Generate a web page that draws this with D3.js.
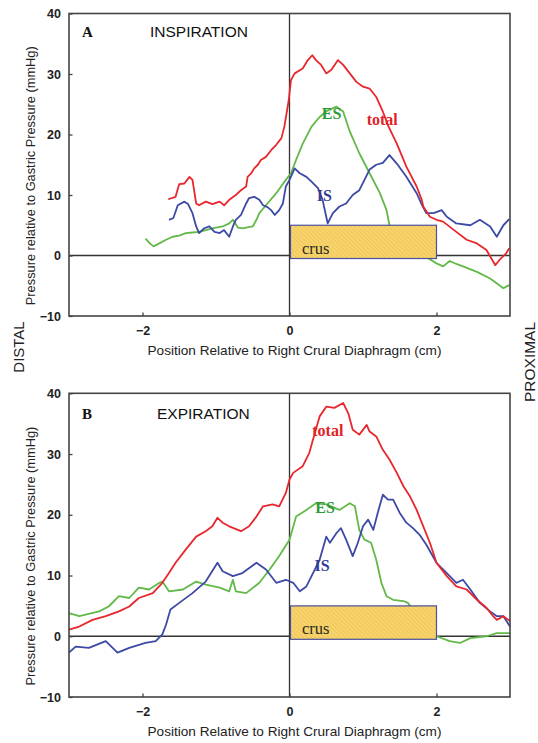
<!DOCTYPE html>
<html><head><meta charset="utf-8">
<script src="https://cdn.jsdelivr.net/npm/d3@7"></script>
<style>body{margin:0;background:#fff}svg{display:block}</style>
</head><body>
<svg id="chart" width="538" height="743"></svg>
<script>
// ---------- data ----------
const xTicks = [-2, 0, 2];
const yTicks = [-10, 0, 10, 20, 30, 40];
const crus = {x0: 0, x1: 2, y0: -0.5, y1: 5};

const inspTotal = [[-1.65,9.3],[-1.55,9.7],[-1.50,11.8],[-1.43,11.9],[-1.36,13.0],[-1.32,12.5],[-1.27,8.6],[-1.23,8.3],[-1.14,8.9],[-1.05,8.5],[-0.95,8.9],[-0.89,8.3],[-0.82,9.2],[-0.73,10.0],[-0.66,10.8],[-0.59,11.4],[-0.57,13.0],[-0.52,13.6],[-0.48,14.4],[-0.43,15.0],[-0.39,15.8],[-0.32,16.3],[-0.25,17.4],[-0.18,18.3],[-0.11,19.4],[-0.07,21.3],[-0.04,23.5],[-0.01,25.7],[0.02,29.0],[0.07,30.1],[0.18,30.9],[0.25,32.3],[0.31,33.1],[0.36,32.3],[0.43,31.5],[0.50,30.1],[0.57,30.7],[0.66,32.3],[0.73,31.5],[0.82,30.1],[0.91,28.7],[1.00,27.9],[1.09,27.6],[1.18,26.2],[1.27,23.8],[1.34,21.5],[1.46,18.5],[1.59,14.7],[1.73,11.4],[1.80,9.2],[1.82,8.1],[1.91,6.4],[2.0,5.9],[2.09,5.6],[2.27,3.9],[2.41,2.6],[2.55,2.0],[2.68,0.9],[2.80,-1.6],[2.86,-0.7],[2.95,0.4],[2.99,1.2]];
const inspES = [[-1.96,2.8],[-1.90,2.0],[-1.85,1.5],[-1.77,2.0],[-1.68,2.6],[-1.59,3.1],[-1.50,3.3],[-1.41,3.7],[-1.32,3.8],[-1.23,3.9],[-1.14,4.2],[-1.05,4.5],[-0.91,4.8],[-0.82,5.3],[-0.77,5.9],[-0.70,4.6],[-0.64,4.5],[-0.50,4.8],[-0.45,5.9],[-0.41,7.0],[-0.32,8.3],[-0.18,10.3],[-0.05,12.5],[0.02,13.6],[0.09,15.8],[0.18,18.5],[0.30,21.3],[0.41,22.9],[0.52,24.0],[0.64,24.6],[0.73,23.8],[0.82,20.5],[0.95,16.9],[1.09,13.6],[1.23,10.3],[1.32,7.5],[1.36,5.0],[1.55,2.5],[1.80,0.2],[2.0,-1.3],[2.09,-1.8],[2.18,-0.9],[2.27,-1.4],[2.36,-1.8],[2.55,-2.7],[2.73,-3.8],[2.91,-5.4],[2.99,-4.9]];
const inspIS = [[-1.64,5.9],[-1.58,6.2],[-1.52,8.3],[-1.43,8.9],[-1.38,8.5],[-1.32,7.0],[-1.27,4.8],[-1.23,3.7],[-1.16,4.5],[-1.09,4.8],[-1.02,3.9],[-0.95,3.7],[-0.89,4.2],[-0.82,3.1],[-0.77,4.8],[-0.73,5.9],[-0.66,6.7],[-0.59,8.6],[-0.55,9.5],[-0.48,9.7],[-0.41,9.2],[-0.36,8.3],[-0.30,8.0],[-0.25,7.5],[-0.20,6.7],[-0.14,7.5],[-0.09,8.6],[-0.05,11.4],[0.0,12.5],[0.07,14.4],[0.14,13.6],[0.23,13.0],[0.30,12.2],[0.39,11.1],[0.45,9.2],[0.52,5.3],[0.59,7.0],[0.68,8.1],[0.77,8.6],[0.86,10.0],[0.95,10.8],[1.02,12.5],[1.09,14.2],[1.18,15.0],[1.27,15.3],[1.36,16.6],[1.46,15.2],[1.59,13.0],[1.73,10.3],[1.80,8.4],[1.86,7.0],[1.96,7.0],[2.07,7.5],[2.14,6.4],[2.27,5.3],[2.46,5.0],[2.59,5.9],[2.73,4.8],[2.82,3.1],[2.91,5.0],[2.99,6.0]];

const expTotal = [[-3.0,1.1],[-2.86,1.6],[-2.68,2.7],[-2.50,3.3],[-2.32,4.1],[-2.18,4.9],[-2.05,6.3],[-1.86,7.1],[-1.73,8.8],[-1.64,10.4],[-1.55,12.1],[-1.41,14.3],[-1.27,16.4],[-1.14,17.3],[-1.05,18.1],[-0.98,19.5],[-0.91,18.7],[-0.82,18.1],[-0.66,17.3],[-0.55,18.1],[-0.45,19.7],[-0.36,21.4],[-0.23,21.7],[-0.14,21.4],[-0.05,23.6],[0.0,25.8],[0.05,26.9],[0.18,28.0],[0.27,30.2],[0.32,32.4],[0.41,36.2],[0.50,37.8],[0.61,37.6],[0.73,38.4],[0.80,36.7],[0.86,34.0],[0.95,33.2],[1.05,34.8],[1.09,33.7],[1.18,32.9],[1.27,30.7],[1.36,29.1],[1.46,26.9],[1.55,24.7],[1.64,23.0],[1.73,20.8],[1.82,18.1],[1.91,15.4],[2.0,12.1],[2.14,9.9],[2.27,8.2],[2.41,7.7],[2.55,6.0],[2.68,4.7],[2.77,3.3],[2.82,2.7],[2.91,3.3],[3.0,2.5]];
const expES = [[-3.0,3.8],[-2.86,3.3],[-2.59,4.1],[-2.46,4.9],[-2.32,6.6],[-2.18,6.3],[-2.05,8.0],[-1.91,7.7],[-1.77,8.8],[-1.73,9.0],[-1.64,7.4],[-1.45,7.7],[-1.27,9.0],[-1.14,8.5],[-0.95,8.0],[-0.82,7.4],[-0.77,9.3],[-0.73,7.4],[-0.59,7.1],[-0.41,8.8],[-0.27,11.0],[-0.14,13.2],[0.0,15.9],[0.09,19.7],[0.23,20.8],[0.36,21.9],[0.50,21.7],[0.68,20.8],[0.82,21.9],[0.89,21.4],[0.95,17.5],[1.02,15.9],[1.11,15.4],[1.18,12.6],[1.25,8.8],[1.32,6.6],[1.41,6.0],[1.55,5.8],[1.61,5.5],[1.8,2.5],[2.0,0.0],[2.18,-0.8],[2.32,-1.1],[2.46,-0.3],[2.68,0.0],[2.82,0.5],[3.0,0.5]];
const expIS = [[-3.0,-2.7],[-2.91,-1.7],[-2.73,-1.9],[-2.50,-0.8],[-2.34,-2.7],[-2.18,-1.9],[-1.96,-1.1],[-1.82,-0.8],[-1.73,0.3],[-1.68,1.9],[-1.62,4.4],[-1.50,5.5],[-1.32,7.1],[-1.14,9.0],[-0.98,12.1],[-0.91,10.7],[-0.77,9.9],[-0.64,10.4],[-0.45,12.1],[-0.32,11.0],[-0.18,8.8],[-0.05,9.3],[0.05,8.8],[0.14,7.4],[0.23,8.2],[0.32,10.4],[0.41,12.6],[0.50,16.4],[0.55,15.4],[0.64,17.0],[0.70,17.8],[0.77,15.9],[0.86,13.2],[0.93,15.4],[1.00,18.1],[1.07,19.2],[1.14,17.5],[1.20,20.3],[1.27,23.3],[1.34,22.5],[1.41,22.5],[1.50,20.3],[1.59,18.7],[1.68,17.8],[1.77,16.7],[1.86,15.1],[2.0,12.1],[2.14,10.4],[2.27,8.8],[2.36,9.3],[2.46,7.7],[2.59,5.5],[2.73,4.1],[2.82,3.3],[2.91,3.3],[3.0,1.6]];

// ---------- drawing ----------
const svg = d3.select("#chart");
const defs = svg.append("defs");
const pat = defs.append("pattern").attr("id","hatch").attr("patternUnits","userSpaceOnUse")
  .attr("width",3).attr("height",3).attr("patternTransform","rotate(-45)");
pat.append("rect").attr("width",3).attr("height",3).attr("fill","#f7d56c");
pat.append("line").attr("x1",0).attr("y1",0).attr("x2",0).attr("y2",3).attr("stroke","#e9b84c").attr("stroke-width",1);

const C = {total:"#e8272d", es:"#63b948", is:"#3c4aa5"};

const panels = [
  {top:13.5, bottom:316, letter:"A", title:"INSPIRATION", tOff:23, total:inspTotal, es:inspES, is:inspIS,
   labels:[{t:"ES",x:0.44,y:22.6,c:"#2f9a3c"},{t:"total",x:1.05,y:21.5,c:"#e0222a"},{t:"IS",x:0.37,y:9.0,c:"#333d98"}]},
  {top:393.3, bottom:697, letter:"B", title:"EXPIRATION", tOff:26, total:expTotal, es:expES, is:expIS,
   labels:[{t:"total",x:0.31,y:33,c:"#e0222a"},{t:"ES",x:0.35,y:20.3,c:"#2f9a3c"},{t:"IS",x:0.34,y:10.8,c:"#333d98"}]}
];

const x = d3.scaleLinear().domain([-3,3]).range([69,510]);

panels.forEach(p => {
  const y = d3.scaleLinear().domain([-10,40]).range([p.bottom,p.top]);
  const g = svg.append("g");
  const line = d3.line().x(d=>x(d[0])).y(d=>y(d[1]));

  // zero lines
  g.append("line").attr("x1",x(-3)).attr("x2",x(3)).attr("y1",y(0)).attr("y2",y(0))
    .attr("stroke","#333").attr("stroke-width",1.3);
  g.append("line").attr("x1",x(0)).attr("x2",x(0)).attr("y1",y(40)).attr("y2",y(-10))
    .attr("stroke","#333").attr("stroke-width",1.3);

  // curves
  [["es",p.es],["is",p.is],["total",p.total]].forEach(([k,d]) => {
    g.append("path").datum(d).attr("d",line).attr("fill","none")
      .attr("stroke",C[k]).attr("stroke-width",1.8).attr("stroke-linejoin","round");
  });

  // crus box
  g.append("rect").attr("x",x(crus.x0)+1).attr("y",y(crus.y1))
    .attr("width",x(crus.x1)-x(crus.x0)-1).attr("height",y(crus.y0)-y(crus.y1))
    .attr("fill","url(#hatch)").attr("stroke","#4a4f9f").attr("stroke-width",1.2);
  g.append("text").attr("x",x(0.17)).attr("y",y(crus.y0)-5).text("crus")
    .attr("font-family","Liberation Serif, serif").attr("font-size",16.5).attr("fill","#2a2a20");

  // frame
  g.append("rect").attr("x",x(-3)).attr("y",y(40)).attr("width",x(3)-x(-3)).attr("height",y(-10)-y(40))
    .attr("fill","none").attr("stroke","#444").attr("stroke-width",1.6);

  // axes (inward ticks)
  const ya = d3.axisLeft(y).tickValues(yTicks).tickFormat(d3.format("d"))
    .tickSizeInner(-3.5).tickSizeOuter(0).tickPadding(8);
  const yg = g.append("g").attr("transform",`translate(${x(-3)},0)`).call(ya);
  const xa = d3.axisBottom(x).tickValues(xTicks).tickFormat(d3.format("d"))
    .tickSizeInner(-3.5).tickSizeOuter(0).tickPadding(10);
  const xg = g.append("g").attr("transform",`translate(0,${y(-10)})`).call(xa);
  [yg,xg].forEach(a => {
    a.select(".domain").remove();
    a.selectAll(".tick line").attr("stroke","#444").attr("stroke-width",1.3);
    a.selectAll(".tick text").attr("font-family","Liberation Sans, Arial, sans-serif")
      .attr("font-weight","bold").attr("font-size",12.5).attr("fill","#222");
  });

  // panel letter and title
  g.append("text").attr("x",82).attr("y",p.top+p.tOff).text(p.letter)
    .attr("font-family","Liberation Serif, serif").attr("font-weight","bold").attr("font-size",15).attr("fill","#111");
  g.append("text").attr("x",p.letter==="A"?150:157).attr("y",p.top+p.tOff).text(p.title)
    .attr("font-family","Liberation Sans, Arial, sans-serif").attr("font-size",15.5).attr("fill","#111");

  // series labels
  p.labels.forEach(l => {
    g.append("text").attr("x",x(l.x)).attr("y",y(l.y)).text(l.t)
      .attr("font-family","Liberation Serif, serif").attr("font-weight","bold").attr("font-size",16).attr("fill",l.c);
  });

  // axis titles
  g.append("text").attr("x",x(0)+5).attr("y",p.bottom+39).attr("text-anchor","middle")
    .text("Position Relative to Right Crural Diaphragm (cm)")
    .attr("font-family","Liberation Sans, Arial, sans-serif").attr("font-size",13.6).attr("fill","#222");
  const cy = (p.top+p.bottom)/2 + 11;
  g.append("text").attr("transform",`translate(35,${cy}) rotate(-90)`).attr("text-anchor","middle")
    .text("Pressure relative to Gastric Pressure (mmHg)")
    .attr("font-family","Liberation Sans, Arial, sans-serif").attr("font-size",12.8).attr("fill","#222");
});

svg.append("text").attr("transform","translate(24,347) rotate(-90)").attr("text-anchor","middle")
  .text("DISTAL").attr("font-family","Liberation Sans, Arial, sans-serif").attr("font-size",15).attr("fill","#222");
svg.append("text").attr("transform","translate(535,362) rotate(-90)").attr("text-anchor","middle")
  .text("PROXIMAL").attr("font-family","Liberation Sans, Arial, sans-serif").attr("font-size",15.5).attr("fill","#222");
</script>
</body></html>
